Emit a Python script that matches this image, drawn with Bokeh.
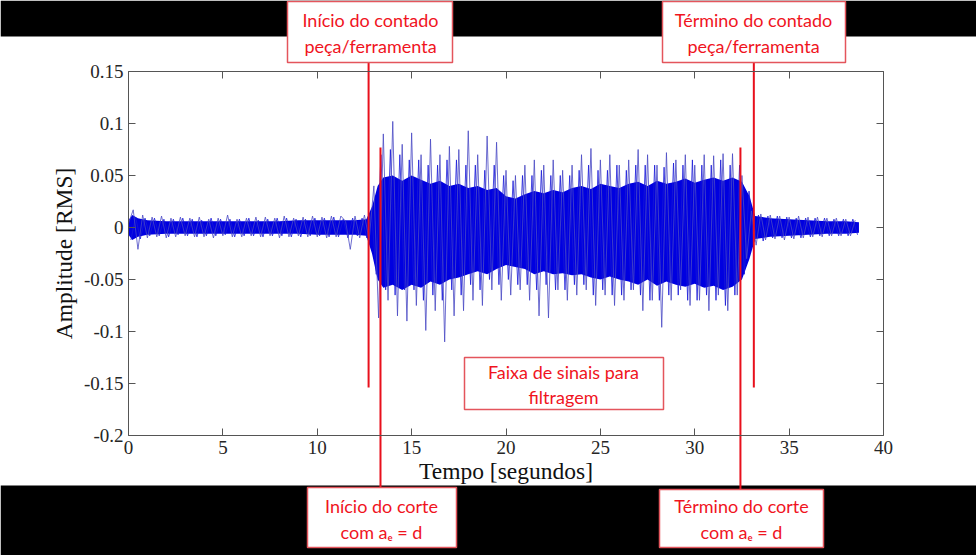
from bokeh.plotting import figure
from bokeh.models import Range1d, LinearAxis, FixedTicker
from bokeh.core.properties import value
from bokeh.embed import file_html
from bokeh.resources import INLINE

# ---------------- data ----------------
x_ticks = [0, 5, 10, 15, 20, 25, 30, 35, 40]
y_ticks = [-0.2, -0.15, -0.1, -0.05, 0, 0.05, 0.1, 0.15]
y_tick_labels = ["-0.2", "-0.15", "-0.1", "-0.05", "0", "0.05", "0.1", "0.15"]

# dense core of the signal (upper / lower envelope)
core_t = [0.0, 0.2, 0.5, 1, 2, 3, 4, 5, 6, 7, 8, 9, 10, 11, 12,
          12.6, 12.9, 13.2, 13.5, 14.0, 14.5, 15.0, 15.5, 16.0, 16.5, 17.0, 17.5,
          18.0, 18.5, 19.0, 19.5, 20.0, 20.5, 21.0, 21.5, 22.0, 22.5, 23.0, 23.5,
          24.0, 24.5, 25.0, 25.5, 26.0, 26.5, 27.0, 27.5, 28.0, 28.5, 29.0, 29.5,
          30.0, 30.5, 31.0, 31.5, 32.0, 32.5, 32.9, 33.2,
          34, 35, 36, 37, 38, 38.7]
core_hi = [0.007, 0.012, 0.009, 0.007, 0.006, 0.006, 0.006, 0.006, 0.006, 0.006, 0.006, 0.007, 0.007, 0.007, 0.007,
           0.008, 0.02, 0.04, 0.048, 0.05, 0.045, 0.05, 0.046, 0.042, 0.045, 0.04, 0.042,
           0.038, 0.04, 0.036, 0.038, 0.03, 0.028, 0.032, 0.035, 0.033, 0.036, 0.034, 0.038,
           0.04, 0.037, 0.042, 0.04, 0.038, 0.042, 0.044, 0.04, 0.045, 0.042, 0.044, 0.047,
           0.043, 0.046, 0.048, 0.045, 0.048, 0.044, 0.03, 0.011,
           0.009, 0.008, 0.007, 0.006, 0.006, 0.005]
core_lo = [-0.007, -0.012, -0.009, -0.007, -0.006, -0.006, -0.006, -0.006, -0.006, -0.006, -0.006, -0.006, -0.007, -0.007, -0.007,
           -0.008, -0.025, -0.05, -0.058, -0.055, -0.06, -0.055, -0.058, -0.052, -0.055, -0.05, -0.048,
           -0.045, -0.042, -0.045, -0.04, -0.036, -0.038, -0.04, -0.045, -0.042, -0.045, -0.044, -0.046,
           -0.045, -0.048, -0.05, -0.047, -0.05, -0.052, -0.055, -0.05, -0.056, -0.052, -0.055, -0.057,
           -0.054, -0.058, -0.056, -0.06, -0.057, -0.05, -0.03, -0.011,
           -0.009, -0.008, -0.007, -0.006, -0.006, -0.005]

# tallest spikes, one value every 0.25 s (t = 0 ... 38.5 s)
spike_v = [
    0.004, 0.017, -0.021, 0.012,
    -0.010, 0.010, -0.009, 0.011,
    -0.010, 0.009, -0.009, 0.010,
    -0.008, 0.009, -0.009, 0.010,
    -0.009, 0.008, -0.010, 0.009,
    -0.008, 0.012, -0.009, 0.008,
    -0.009, 0.009, -0.008, 0.010,
    -0.009, 0.010, -0.008, 0.009,
    -0.010, 0.011, -0.009, 0.009,
    -0.008, 0.010, -0.009, 0.011,
    -0.009, 0.010, -0.010, 0.011,
    -0.009, 0.011, 0.006, -0.021,
    0.011, -0.010, 0.012, -0.012,
    0.040, -0.087, 0.090, -0.070,
    0.102, -0.085, 0.080, -0.090,
    0.091, -0.075, 0.070, -0.099,
    0.085, -0.080, 0.070, -0.110,
    0.078, -0.085, 0.075, -0.080,
    0.093, -0.070, 0.070, -0.075,
    0.088, -0.060, 0.082, -0.070,
    0.055, -0.065, 0.050, -0.060,
    0.060, -0.070, 0.065, -0.085,
    0.060, -0.087, 0.065, -0.060,
    0.055, -0.070, 0.060, -0.065,
    0.070, -0.060, 0.076, -0.075,
    0.065, -0.065, 0.070, -0.075,
    0.060, -0.070, 0.065, -0.060,
    0.075, -0.080, 0.070, -0.070,
    0.060, -0.096, 0.072, -0.070,
    0.065, -0.060, 0.070, -0.075,
    0.060, -0.070, 0.070, -0.080,
    0.069, -0.065, 0.071, -0.080,
    0.071, -0.065, 0.050, -0.030,
    0.016, -0.017, 0.013, -0.012,
    0.012, -0.011, 0.011, -0.012,
    0.010, -0.011, 0.011, -0.010,
    0.010, -0.009, 0.010, -0.009,
    0.009, -0.008, 0.009, -0.008,
    0.008, -0.008, 0.007,
]
spike_t = [i * 0.25 for i in range(len(spike_v))]

# secondary spikes, between the former ones (t = 0.125 ... 38.625 s)
spike2_v = [
    -0.012, 0.010, -0.011, 0.009,
    -0.008, 0.009, -0.008, 0.008,
    -0.009, 0.008, -0.007, 0.009,
    -0.008, 0.008, -0.009, 0.007,
    -0.008, 0.009, -0.008, 0.008,
    -0.007, 0.008, -0.009, 0.008,
    -0.008, 0.009, -0.008, 0.007,
    -0.009, 0.008, -0.008, 0.009,
    -0.008, 0.009, -0.009, 0.008,
    -0.009, 0.008, -0.008, 0.009,
    -0.008, 0.009, -0.009, 0.010,
    -0.009, 0.008, -0.010, 0.009,
    -0.008, 0.009, -0.010, 0.015,
    -0.045, 0.070, -0.060, 0.075,
    -0.065, 0.070, -0.060, 0.065,
    -0.060, 0.065, -0.070, 0.060,
    -0.065, 0.060, -0.070, 0.065,
    -0.060, 0.065, -0.065, 0.060,
    -0.055, 0.060, -0.060, 0.055,
    -0.050, 0.060, -0.055, 0.050,
    -0.050, 0.045, -0.055, 0.050,
    -0.055, 0.050, -0.060, 0.055,
    -0.055, 0.050, -0.060, 0.050,
    -0.060, 0.050, -0.055, 0.055,
    -0.055, 0.060, -0.065, 0.055,
    -0.060, 0.055, -0.065, 0.060,
    -0.065, 0.055, -0.060, 0.060,
    -0.065, 0.060, -0.070, 0.060,
    -0.070, 0.058, -0.065, 0.062,
    -0.065, 0.060, -0.070, 0.065,
    -0.070, 0.060, -0.065, 0.060,
    -0.070, 0.065, -0.075, 0.060,
    -0.065, 0.060, -0.045, 0.035,
    -0.014, 0.012, -0.013, 0.011,
    -0.010, 0.011, -0.010, 0.010,
    -0.010, 0.009, -0.010, 0.009,
    -0.009, 0.009, -0.008, 0.009,
    -0.008, 0.008, -0.008, 0.008,
    -0.008, 0.008, -0.007,
]
spike2_t = [0.125 + i * 0.25 for i in range(len(spike2_v))]

# event markers: time (s), top and bottom of each red line (amplitude units)
event_t = [12.72, 13.35, 32.42, 33.13]
event_top = [0.1587, 0.0769, 0.0769, 0.1587]
event_bottom = [-0.1538, -0.2500, -0.2520, -0.1538]

# ---------------- layout (pixels) ----------------
W, H = 976, 555
PL, PR, PT, PB = 128, 883, 71, 435          # plot box
X0, X1, Y0, Y1 = 0.0, 40.0, -0.2, 0.15     # axis limits
sx = (PR - PL) / (X1 - X0)
sy = (PB - PT) / (Y1 - Y0)

p = figure(width=W, height=H, output_backend="svg", toolbar_location=None,
           x_range=Range1d(0, W), y_range=Range1d(H, 0),
           x_axis_location=None, y_axis_location=None,
           min_border=0, min_border_left=0, min_border_right=0, min_border_top=0, min_border_bottom=0)
p.extra_x_ranges = {"t": Range1d(X0 - PL / sx, X1 + (W - PR) / sx)}
p.extra_y_ranges = {"amp": Range1d(Y0 - (H - PB) / sy, Y1 + PT / sy)}
p.background_fill_color = "white"
p.border_fill_color = "white"
p.outline_line_color = None
p.grid.visible = False

SERIF = "Liberation Serif"
AX = "#555555"


def style_axis(ax, labels=True):
    ax.axis_line_color = AX
    ax.major_tick_line_color = AX
    ax.major_tick_in = 7
    ax.major_tick_out = 0
    ax.minor_tick_line_color = None
    ax.major_label_text_font = SERIF
    ax.major_label_text_font_size = "19px"
    ax.major_label_text_color = "#262626" if labels else None
    ax.axis_label_text_font = SERIF
    ax.axis_label_text_font_size = "23.5px"
    ax.axis_label_text_font_style = "normal"
    ax.axis_label_text_color = "#111111"


xb = LinearAxis(x_range_name="t", y_range_name="amp", fixed_location=Y0, bounds=(X0, X1),
                ticker=FixedTicker(ticks=x_ticks), axis_label="Tempo [segundos]")
style_axis(xb)
xb.major_label_standoff = 5
xb.axis_label_standoff = 1
yl = LinearAxis(x_range_name="t", y_range_name="amp", fixed_location=X0, bounds=(Y0, Y1),
                ticker=FixedTicker(ticks=y_ticks), axis_label="Amplitude [RMS]")
style_axis(yl)
yl.major_label_overrides = {v: s for v, s in zip(y_ticks, y_tick_labels)}
yl.major_label_standoff = 5
yl.axis_label_standoff = 4
xt = LinearAxis(x_range_name="t", y_range_name="amp", fixed_location=Y1, bounds=(X0, X1),
                ticker=FixedTicker(ticks=x_ticks))
style_axis(xt, labels=False)
yr = LinearAxis(x_range_name="t", y_range_name="amp", fixed_location=X1, bounds=(Y0, Y1),
                ticker=FixedTicker(ticks=y_ticks))
style_axis(yr, labels=False)
p.add_layout(xb, "below")
p.add_layout(yl, "left")
p.add_layout(xt, "above")
p.add_layout(yr, "right")

# black bands of the slide
p.quad(left=[0, 0], right=[W, W], top=[0, 485], bottom=[36, H],
       fill_color="black", line_color=None)

# signal
p.varea(x=core_t, y1=core_lo, y2=core_hi, fill_color="#0000e0",
        x_range_name="t", y_range_name="amp")
p.line(spike2_t, spike2_v, line_color="#1818d8", line_width=1, line_alpha=0.8,
       x_range_name="t", y_range_name="amp")
p.line(spike_t, spike_v, line_color="#4a4ac4", line_width=1, line_alpha=0.8,
       x_range_name="t", y_range_name="amp")

# red event lines
RED = "#e8101c"
p.segment(x0=event_t, y0=event_top, x1=event_t, y1=event_bottom,
          line_color=RED, line_width=2, x_range_name="t", y_range_name="amp")

# annotation boxes (pixels)
box_l = [287, 662, 307, 659, 464]
box_r = [452, 845, 456, 823, 663]
box_t = [1, 1, 487, 489, 357]
box_b = [62, 62, 547, 547, 409]
p.quad(left=box_l, right=box_r, top=box_t, bottom=box_b,
       fill_color="white", line_color="#e4555c", line_width=1.5)

txt = ["Início do contado", "peça/ferramenta",
       "Término do contado", "peça/ferramenta",
       "Início do corte", "com aₑ = d",
       "Término do corte", "com aₑ = d",
       "Faixa de sinais para", "filtragem"]
txt_x = [370, 370, 753, 753, 381, 381, 741, 741, 563, 563]
txt_y = [19, 45, 19, 45, 505, 531, 505, 531, 371, 396]
p.text(x=txt_x, y=txt_y, text=txt, text_font=value("Lato"), text_font_size=value("18px"),
       text_color="#f0141e", text_align="center", text_baseline="middle")

open("out.html", "w").write(file_html(p, INLINE))
